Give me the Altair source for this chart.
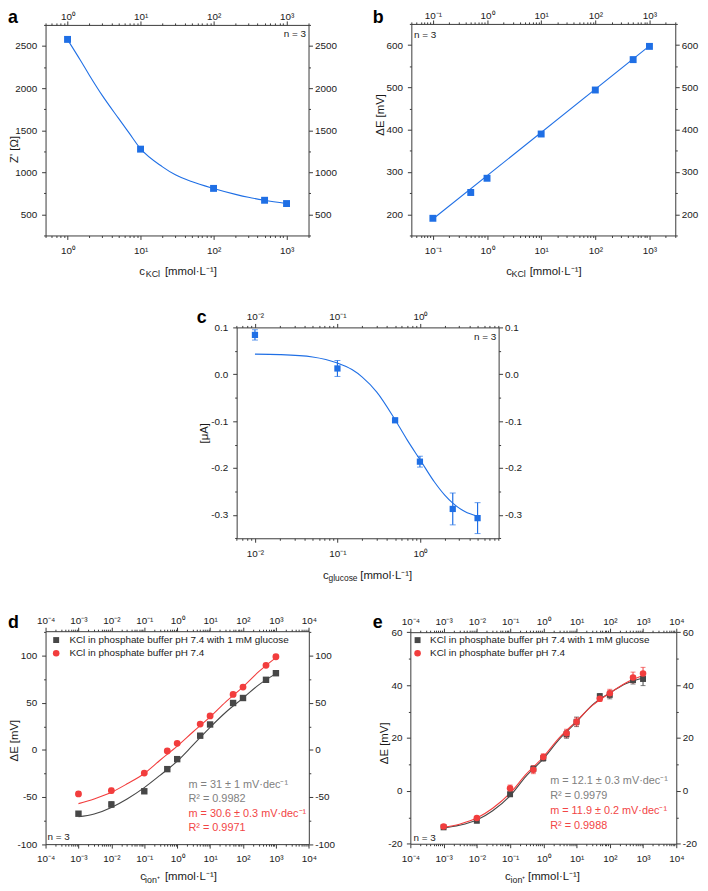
import altair as alt
import pandas as pd

FONT = "Liberation Sans"
BLUE = "#1f6fe5"
RED = "#f23d3d"
DARK = "#474747"
AXC = "#3a3a3a"
TXT = "#1a1a1a"
GREY_T = "#808080"
RED_T = "#f24545"

W, H = 700, 883
SUP = "\u2070\u00b9\u00b2\u00b3\u2074\u2075\u2076\u2077\u2078\u2079"

# ---------------- data ----------------
# panel a
a_x = [1, 10, 100, 500, 1000]
a_y = [2578, 1275, 809, 668, 629]
a_err = [10, 25, 12, 10, 8]
a_fit_x = [1, 1.5, 2, 3, 5, 7, 10, 20, 30, 50, 100, 200, 300, 500, 1000]
a_fit_y = [2575, 2330, 2150, 1910, 1640, 1465, 1280, 1065, 970, 890, 808, 738, 703, 668, 630]

# panel b
b_x = [0.1, 0.5, 1, 10, 100, 500, 1000]
b_y = [190.6, 251.6, 285.2, 389.8, 493.8, 565.6, 596.9]
b_err = [3, 6, 4, 3, 4, 6, 3]
b_fit_x = [0.1, 1000]
b_fit_y = [189, 598]

# panel c
c_x = [0.01, 0.1, 0.5, 1, 2.5, 5]
c_y = [0.084, 0.0124, -0.0982, -0.1865, -0.2874, -0.307]
c_err = [0.011, 0.017, 0.004, 0.0116, 0.034, 0.033]
c_fit_x = [0.01, 0.02, 0.05, 0.1, 0.15, 0.2, 0.3, 0.5, 0.7, 1.0, 1.5, 2.0, 2.5, 3.5, 5]
c_fit_y = [0.043, 0.042, 0.037, 0.024, 0.010, -0.006, -0.038, -0.097, -0.140, -0.182,
           -0.230, -0.258, -0.275, -0.293, -0.303]

# panels d / e
conc = [0.001, 0.01, 0.1, 0.5, 1, 5, 10, 50, 100, 500, 1000]
fit_x = [0.001, 0.003, 0.01, 0.03, 0.1, 0.3, 1, 3, 10, 30, 100, 300, 1000]

d_glu_y = [-67.7, -57.9, -43.9, -20.4, -9.8, 15.1, 27.0, 49.8, 55.1, 74.4, 81.4]
d_glu_err = [2, 3, 1, 1, 1, 1, 1, 1, 1, 1, 1]
d_buf_y = [-46.7, -43.2, -24.6, -1.1, 7.0, 27.4, 36.1, 58.9, 66.7, 89.8, 98.9]
d_buf_err = [2, 2.5, 1, 1, 1, 1, 1, 1, 1, 1, 1]
d_glu_fit = [-71, -68, -61, -52, -40, -27, -12, 5, 24, 40, 55, 69, 81]
d_buf_fit = [-57, -52, -45, -36, -25, -11, 4, 19, 35, 51, 67, 83, 98]

e_glu_y = [-13.8, -11.3, -1.3, 8.3, 12.4, 21.4, 26.1, 35.8, 36.3, 41.9, 42.3]
e_glu_err = [0.5, 0.8, 0.8, 1.2, 1.2, 1.5, 1.8, 1.0, 1.5, 1.5, 2.5]
e_buf_y = [-13.5, -10.3, 1.0, 8.0, 12.8, 21.8, 26.1, 34.8, 36.9, 42.9, 44.4]
e_buf_err = [0.5, 0.5, 1.2, 1.5, 1.2, 1.5, 1.5, 1.0, 1.5, 2.0, 2.3]
e_glu_fit = [-14, -13, -11, -7.5, -1.9, 5.5, 12.1, 19.5, 26.1, 32.5, 37, 40.5, 42.7]
e_buf_fit = [-13.8, -12.6, -10.3, -6.6, -0.9, 6.2, 12.8, 20.0, 26.4, 32.3, 37, 40.8, 43.6]

leg_glu = "KCl in phosphate buffer pH 7.4 with 1 mM glucose"
leg_buf = "KCl in phosphate buffer pH 7.4"
d_stats = ["m = 31 \u00b1 1 mV\u00b7dec\u207b\u00b9", "R\u00b2 = 0.9982",
           "m = 30.6 \u00b1 0.3 mV\u00b7dec\u207b\u00b9", "R\u00b2 = 0.9971"]
e_stats = ["m = 12.1 \u00b1 0.3 mV\u00b7dec\u207b\u00b9", "R\u00b2 = 0.9979",
           "m = 11.9 \u00b1 0.2 mV\u00b7dec\u207b\u00b9", "R\u00b2 = 0.9988"]

# tick lists
def minors(e0, e1):
    return [k * 10.0 ** e for e in range(e0, e1) for k in range(2, 10)]

a_xmaj = [1, 10, 100, 1000]
a_xmin = [0.5, 0.6, 0.7, 0.8, 0.9] + minors(0, 3) + [2000]
a_ymaj = [500, 1000, 1500, 2000, 2500]
a_ymin = [250, 750, 1250, 1750, 2250, 2750]
b_xmaj = [0.1, 1, 10, 100, 1000]
b_xmin = [0.04, 0.05, 0.06, 0.07, 0.08, 0.09] + minors(-1, 3) + [2000, 3000]
b_ymaj = [200, 300, 400, 500, 600]
b_ymin = [150, 250, 350, 450, 550, 650]
c_xmaj = [0.01, 0.1, 1]
c_xmin = [0.006, 0.007, 0.008, 0.009] + minors(-2, 1)
c_ymaj = [-0.3, -0.2, -0.1, 0.0, 0.1]
c_ymin = [-0.35, -0.25, -0.15, -0.05, 0.05]
de_xmaj = [1e-4, 1e-3, 1e-2, 1e-1, 1, 10, 100, 1000, 1e4]
de_xmin = minors(-4, 4)
d_ymaj = [-100, -50, 0, 50, 100]
d_ymin = [-75, -25, 25, 75, 125]
e_ymaj = [-20, 0, 20, 40, 60]
e_ymin = [-10, 10, 30, 50]


def log_expr():
    e = "round(log(datum.value)/LN10)"
    return ("'10' + (" + e + " < 0 ? '\u207b' : '') + substring('" + SUP + "', abs(" + e
            + "), abs(" + e + ") + 1)")


def lin_expr(fmt):
    return "replace(format(datum.value, '" + fmt + "'), '\u2212', '-')"


def mk_axis(orient, offset, values, expr=None, minor=False, pad=2):
    kw = dict(orient=orient, offset=offset, values=values, title=None, grid=False,
              domain=not minor, domainColor=AXC, domainWidth=1,
              ticks=True, tickColor=AXC, tickWidth=1, tickSize=2 if minor else 4,
              labels=not minor)
    if not minor:
        kw.update(labelFont=FONT, labelFontSize=10, labelColor=TXT, labelPadding=pad,
                  labelOverlap=False, labelFlush=False, labelExpr=expr)
    return alt.Axis(**kw)


def panel(spec, layers_fn):
    xs = alt.Scale(type="log", domain=spec["xd"], range=spec["xr"], nice=False)
    ys = alt.Scale(type="linear", domain=spec["yd"], range=spec["yr"], nice=False, zero=False)
    L, R = spec["xr"]
    B, T = spec["yr"]
    frame = pd.DataFrame({"fx": spec["xd"], "fy": spec["yd"]})
    xe = log_expr()
    ye = lin_expr(spec["fmt"])
    combos = [
        (mk_axis("bottom", B - H, spec["xmaj"], xe, pad=6),
         mk_axis("left", -L, spec["ymaj"], ye, pad=spec.get("leftpad", 5))),
        (mk_axis("top", -T, spec["xmaj"], xe, pad=spec["toppad"]),
         mk_axis("right", R - W, spec["ymaj"], ye, pad=2)),
        (mk_axis("bottom", B - H, spec["xmin"], minor=True),
         mk_axis("left", -L, spec["ymin"], minor=True)),
        (mk_axis("top", -T, spec["xmin"], minor=True),
         mk_axis("right", R - W, spec["ymin"], minor=True)),
    ]
    axis_layers = [alt.Chart(frame).mark_point(opacity=0).encode(
        x=alt.X("fx:Q", scale=xs, axis=ax), y=alt.Y("fy:Q", scale=ys, axis=ay))
        for ax, ay in combos]
    data_layers = layers_fn(xs, ys)
    return (alt.layer(*axis_layers, *data_layers)
            .resolve_scale(x="shared", y="shared")
            .resolve_axis(x="independent", y="independent"))


def X(f, xs):
    return alt.X(f + ":Q", scale=xs, axis=None)


def Y(f, ys):
    return alt.Y(f + ":Q", scale=ys, axis=None)


def errbars(x, y, err, xs, ys, color, cap=5, sw=1):
    df = pd.DataFrame({"x": x, "lo": [v - e for v, e in zip(y, err)],
                       "hi": [v + e for v, e in zip(y, err)]})
    rule = alt.Chart(df).mark_rule(color=color, strokeWidth=sw).encode(
        x=X("x", xs), y=Y("lo", ys), y2="hi:Q")
    caps = [alt.Chart(df).mark_tick(color=color, orient="horizontal", size=cap, thickness=1).encode(
        x=X("x", xs), y=Y(c, ys)) for c in ("lo", "hi")]
    return [rule] + caps


def fitline(x, y, xs, ys, color):
    return alt.Chart(pd.DataFrame({"x": x, "y": y})).mark_line(
        color=color, strokeWidth=1.1, interpolate="monotone").encode(x=X("x", xs), y=Y("y", ys))


def points(x, y, xs, ys, color, shape="square", size=45):
    ch = alt.Chart(pd.DataFrame({"x": x, "y": y}))
    m = ch.mark_square(color=color, size=size, opacity=1) if shape == "square" else \
        ch.mark_circle(color=color, size=size, opacity=1)
    return m.encode(x=X("x", xs), y=Y("y", ys))


def label(x, y, t, xs, ys, align="left", size=10, color=TXT, baseline="alphabetic"):
    df = pd.DataFrame({"x": [x], "y": [y], "t": [t]})
    return alt.Chart(df).mark_text(align=align, baseline=baseline, font=FONT, fontSize=size,
                                   color=color).encode(x=X("x", xs), y=Y("y", ys), text="t:N")


def stats(x, ys_vals, texts, colors, xs, ys):
    df = pd.DataFrame({"x": [x] * 4, "y": ys_vals, "t": texts, "c": colors})
    return alt.Chart(df).mark_text(align="left", baseline="alphabetic", font=FONT,
                                   fontSize=11).encode(
        x=X("x", xs), y=Y("y", ys), text="t:N", color=alt.Color("c:N", scale=None))


# ---------------- panels ----------------
spec_a = dict(xd=[0.5, 2000], xr=[38, 304], yd=[250, 2750], yr=[225, 12], fmt="d",
              xmaj=a_xmaj, xmin=a_xmin, ymaj=a_ymaj, ymin=a_ymin, toppad=-1)
spec_b = dict(xd=[0.04, 3000], xr=[408, 675], yd=[150, 650], yr=[225, 11], fmt="d",
              xmaj=b_xmaj, xmin=b_xmin, ymaj=b_ymaj, ymin=b_ymin, toppad=-1)
spec_c = dict(xd=[0.006, 9], xr=[231.3, 496.3], yd=[-0.35, 0.1], yr=[531.3, 318], fmt=".1f",
              xmaj=c_xmaj, xmin=c_xmin, ymaj=c_ymaj, ymin=c_ymin, toppad=2)
spec_d = dict(xd=[1e-4, 1e4], xr=[38, 304.3], yd=[-100, 126], yr=[840.7, 625.3], fmt="d",
              xmaj=de_xmaj, xmin=de_xmin, ymaj=d_ymaj, ymin=d_ymin, toppad=2)
spec_e = dict(xd=[1e-4, 1e4], xr=[407, 676], yd=[-20, 60], yr=[840.3, 626.3], fmt="d",
              xmaj=de_xmaj, xmin=de_xmin, ymaj=e_ymaj, ymin=e_ymin, toppad=2, leftpad=4.5)


def layers_a(xs, ys):
    return ([fitline(a_fit_x, a_fit_y, xs, ys, BLUE)]
            + errbars(a_x, a_y, a_err, xs, ys, BLUE)
            + [points(a_x, a_y, xs, ys, BLUE, size=49),
               label(1850, 2610, "n = 3", xs, ys, align="right")])


def layers_b(xs, ys):
    return ([fitline(b_fit_x, b_fit_y, xs, ys, BLUE)]
            + errbars(b_x, b_y, b_err, xs, ys, BLUE)
            + [points(b_x, b_y, xs, ys, BLUE, size=49),
               label(0.045, 617, "n = 3", xs, ys)])


def layers_c(xs, ys):
    return ([fitline(c_fit_x, c_fit_y, xs, ys, BLUE)]
            + errbars(c_x, c_y, c_err, xs, ys, BLUE, cap=6, sw=1.2)
            + [points(c_x, c_y, xs, ys, BLUE, size=40),
               label(8.4, 0.073, "n = 3", xs, ys, align="right")])


def layers_d(xs, ys):
    return ([fitline(fit_x, d_glu_fit, xs, ys, DARK), fitline(fit_x, d_buf_fit, xs, ys, RED)]
            + errbars(conc, d_glu_y, d_glu_err, xs, ys, DARK)
            + errbars(conc, d_buf_y, d_buf_err, xs, ys, RED)
            + [points(conc, d_glu_y, xs, ys, DARK, size=42),
               points(conc, d_buf_y, xs, ys, RED, "circle", size=48),
               points([2.1e-4], [116.6], xs, ys, DARK, size=36),
               points([2.1e-4], [102.5], xs, ys, RED, "circle", size=44),
               label(5.3e-4, 116.6, leg_glu, xs, ys, baseline="middle"),
               label(5.3e-4, 102.5, leg_buf, xs, ys, baseline="middle"),
               stats(2.2, [-40.0, -55.7, -70.9, -86.2], d_stats,
                     [GREY_T, GREY_T, RED_T, RED_T], xs, ys),
               label(1.15e-4, -96, "n = 3", xs, ys)])


def layers_e(xs, ys):
    return ([fitline(fit_x, e_glu_fit, xs, ys, DARK), fitline(fit_x, e_buf_fit, xs, ys, RED)]
            + errbars(conc, e_glu_y, e_glu_err, xs, ys, DARK)
            + errbars(conc, e_buf_y, e_buf_err, xs, ys, RED)
            + [points(conc, e_glu_y, xs, ys, DARK, size=36),
               points(conc, e_buf_y, xs, ys, RED, "circle", size=44),
               points([1.65e-4], [57.0], xs, ys, DARK, size=36),
               points([1.65e-4], [52.0], xs, ys, RED, "circle", size=44),
               label(3.93e-4, 57.0, leg_glu, xs, ys, baseline="middle"),
               label(3.93e-4, 52.0, leg_buf, xs, ys, baseline="middle"),
               stats(1.61, [2.73, -3.07, -8.67, -14.28], e_stats,
                     [GREY_T, GREY_T, RED_T, RED_T], xs, ys),
               label(1.25e-4, -18.8, "n = 3", xs, ys)])


pa = panel(spec_a, layers_a)
pb = panel(spec_b, layers_b)
pc = panel(spec_c, layers_c)
pdd = panel(spec_d, layers_d)
pe = panel(spec_e, layers_e)

# ---------------- titles (layout text, pixel positions) ----------------
unit = "[mmol\u00b7L\u207b\u00b9]"
bottom_titles = pd.DataFrame([
    # panel a
    (132.7, 264.7, "c", 11.5), (139.3, 267.3, "KCl", 9), (158.7, 264.7, unit, 11.5),
    # panel b
    (504.0, 264.7, "c", 11.5), (509.3, 267.3, "KCl", 9), (527.7, 264.7, unit, 11.5),
    # panel c
    (318.7, 572.0, "c", 11.5), (324.3, 574.7, "glucose", 8.5), (356.3, 572.0, unit, 11.5),
    # panel d
    (133.7, 877.0, "c", 11.5), (138.7, 879.7, "ion\u207a", 9), (158.7, 877.0, unit, 11.5),
    # panel e
    (502.7, 877.0, "c", 11.5), (508.3, 879.7, "ion\u207a", 9), (526.0, 877.0, unit, 11.5),
], columns=["px", "py", "t", "fs"])

side_titles = pd.DataFrame([
    (7.5, 138.0, "Z' [\u03a9]"),
    (377.7, 103.0, "\u0394E [mV]"),
    (199.5, 425.0, "[\u03bcA]"),
    (7.5, 736.0, "\u0394E [mV]"),
    (381.0, 738.7, "\u0394E [mV]"),
], columns=["px", "py", "t"])

letters = pd.DataFrame([
    (0.0, 10.5, "a"), (369.0, 10.0, "b"), (191.0, 314.0, "c"),
    (0.0, 622.0, "d"), (369.0, 622.0, "e"),
], columns=["px", "py", "t"])

t_bottom = alt.Chart(bottom_titles).mark_text(
    align="left", baseline="alphabetic", font=FONT, color=TXT).encode(
    x=alt.X("px:Q", scale=None, axis=None), y=alt.Y("py:Q", scale=None, axis=None),
    text="t:N", size=alt.Size("fs:Q", scale=None, legend=None))

t_side = alt.Chart(side_titles).mark_text(
    align="center", baseline="middle", font=FONT, fontSize=11.5, angle=270, color=TXT).encode(
    x=alt.X("px:Q", scale=None, axis=None), y=alt.Y("py:Q", scale=None, axis=None), text="t:N")

t_letters = alt.Chart(letters).mark_text(
    align="left", baseline="alphabetic", font=FONT, fontSize=18, fontWeight="bold",
    color="#000000").encode(
    x=alt.X("px:Q", scale=None, axis=None), y=alt.Y("py:Q", scale=None, axis=None), text="t:N")

chart = (alt.layer(pa, pb, pc, pdd, pe, t_bottom, t_side, t_letters)
         .resolve_scale(x="independent", y="independent")
         .resolve_axis(x="independent", y="independent")
         .properties(width=W, height=H, padding=0,
                     autosize=alt.AutoSizeParams(type="none"), background="white")
         .configure_view(stroke=None))

chart.save("out.html", embed_options={"renderer": "svg", "actions": False})
